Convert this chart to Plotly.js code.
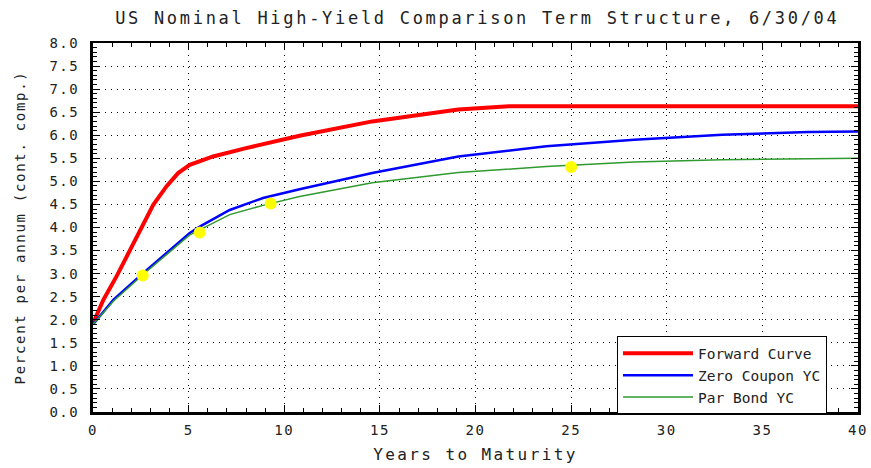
<!DOCTYPE html>
<html>
<head>
<meta charset="utf-8">
<script src="https://cdn.plot.ly/plotly-3.0.1.min.js"></script>
<style>
html,body{margin:0;padding:0;background:#fff;}
#chart{width:871px;height:468px;}
.main-svg .gtitle{letter-spacing:2.7px;}
.main-svg .xtitle{letter-spacing:2.4px;}
.main-svg .ytitle{letter-spacing:1.7px;}
.main-svg .xtick text, .main-svg .ytick text{letter-spacing:1.5px;}
</style>
</head>
<body>
<div id="chart"></div>
<script>
// Forward curve
const fwdX = [0, 0.54, 1.23, 1.93, 2.54, 3.15, 3.84, 4.45, 5.06, 6.28, 8.0, 9.75, 10.8, 14.6, 19.1, 21.75, 25, 30, 35, 40];
const fwdY = [1.92, 2.43, 2.94, 3.51, 4.02, 4.49, 4.89, 5.18, 5.36, 5.54, 5.72, 5.9, 5.99, 6.3, 6.56, 6.63, 6.63, 6.63, 6.63, 6.63];
// Zero coupon yield curve
const zcX = [0, 1.06, 2.62, 3.84, 5.06, 5.58, 7.15, 8.89, 10.8, 14.6, 19.1, 23.7, 28.3, 32.9, 37.4, 40];
const zcY = [1.9, 2.43, 3.01, 3.44, 3.88, 4.02, 4.38, 4.64, 4.83, 5.18, 5.54, 5.76, 5.9, 6.01, 6.07, 6.08];
// Par bond yield curve
const parX = [0, 1.06, 2.62, 3.84, 5.06, 5.58, 7.15, 8.89, 10.8, 14.6, 19.1, 23.7, 28.3, 32.9, 37.4, 40];
const parY = [1.9, 2.40, 2.98, 3.42, 3.84, 3.95, 4.28, 4.48, 4.67, 4.97, 5.19, 5.32, 5.42, 5.47, 5.49, 5.50];
// Highlighted par bond points
const ptX = [2.6, 5.58, 9.29, 25.0];
const ptY = [2.96, 3.89, 4.52, 5.31];

const monoFont = "DejaVu Sans Mono, monospace";

const traces = [
  {x: fwdX, y: fwdY, mode: 'lines', name: 'Forward Curve', line: {color: '#ff0000', width: 4}},
  {x: zcX, y: zcY, mode: 'lines', name: 'Zero Coupon YC', line: {color: '#0000ff', width: 2.5}},
  {x: parX, y: parY, mode: 'lines', name: 'Par Bond YC', line: {color: '#2f9a2f', width: 1.5}},
  {x: ptX, y: ptY, mode: 'markers', name: 'points', showlegend: false,
   marker: {color: '#ffff00', size: 12, line: {width: 0}}}
];

const layout = {
  width: 871, height: 468,
  margin: {l: 93, r: 13, t: 43, b: 56},
  paper_bgcolor: '#ffffff', plot_bgcolor: '#ffffff',
  font: {family: monoFont, size: 13, color: '#222'},
  title: {text: 'US Nominal High-Yield Comparison Term Structure, 6/30/04',
          font: {family: monoFont, size: 17, color: '#222'},
          x: 0.548, xanchor: 'center', y: 0.962, yanchor: 'middle'},
  xaxis: {
    range: [0, 40], dtick: 5, tick0: 0,
    showline: true, linecolor: '#000', linewidth: 2.5, mirror: 'ticks',
    ticks: 'inside', ticklen: 7, tickcolor: '#000', tickwidth: 1,
    showgrid: true, gridcolor: '#000', griddash: '1px,5px', gridwidth: 1,
    zeroline: false,
    minor: {dtick: 1, ticks: 'inside', ticklen: 4, tickcolor: '#000', showgrid: false},
    tickfont: {family: monoFont, size: 14, color: '#222'},
    ticklabelstandoff: 4,
    title: {text: 'Years to Maturity', font: {family: monoFont, size: 16, color: '#222'}, standoff: 12}
  },
  yaxis: {
    range: [0, 8], dtick: 0.5, tick0: 0, tickformat: '.1f',
    showline: true, linecolor: '#000', linewidth: 3, mirror: 'ticks',
    ticks: 'inside', ticklen: 7, tickcolor: '#000', tickwidth: 1,
    showgrid: true, gridcolor: '#000', griddash: '1px,5px', gridwidth: 1,
    zeroline: false,
    minor: {dtick: 0.1, ticks: 'inside', ticklen: 4, tickcolor: '#000', showgrid: false},
    tickfont: {family: monoFont, size: 14, color: '#222'},
    ticklabelstandoff: 8,
    title: {text: 'Percent per annum (cont. comp.)', font: {family: monoFont, size: 14, color: '#222'}, standoff: 26}
  },
  legend: {
    x: 0.685, y: 0.205, xanchor: 'left', yanchor: 'top',
    bgcolor: '#ffffff', bordercolor: '#000', borderwidth: 1,
    font: {family: monoFont, size: 14.5, color: '#222'},
    itemwidth: 70, tracegroupgap: 0
  },
  showlegend: true
};

Plotly.newPlot('chart', traces, layout, {displayModeBar: false, staticPlot: true});
</script>
</body>
</html>
